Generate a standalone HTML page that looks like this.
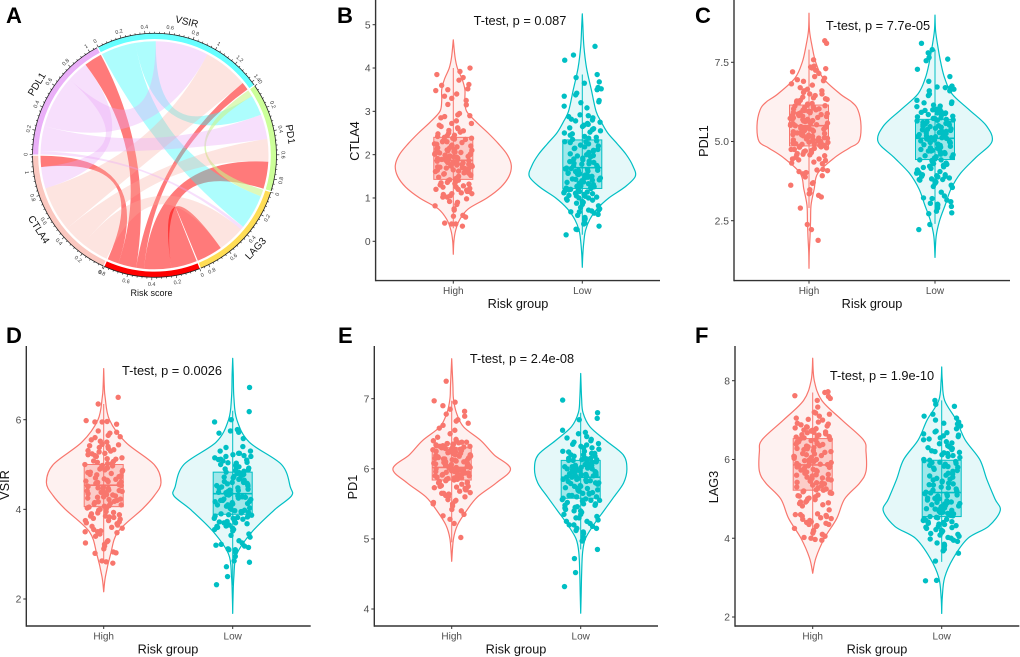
<!DOCTYPE html>
<html lang="en">
<head>
<meta charset="utf-8">
<title>Risk score and immune checkpoints</title>
<style>
html,body{margin:0;padding:0;background:#fff}
svg{display:block;font-family:"Liberation Sans",Arial,sans-serif}
</style>
</head>
<body>
<svg id="figure" xmlns="http://www.w3.org/2000/svg" width="1020" height="657" viewBox="0 0 1020 657">
<rect width="1020" height="657" fill="#fff"/>
<g id="panelA"></g>
<g id="panelB"></g>
<g id="panelC"></g>
<g id="panelD"></g>
<g id="panelE"></g>
<g id="panelF"></g>
<text x="6" y="23" font-size="22" font-weight="bold">A</text>
<text x="337" y="23" font-size="22" font-weight="bold">B</text>
<text x="695" y="23" font-size="22" font-weight="bold">C</text>
<text x="6" y="343" font-size="22" font-weight="bold">D</text>
<text x="338" y="343" font-size="22" font-weight="bold">E</text>
<text x="695" y="343" font-size="22" font-weight="bold">F</text>
</svg>
<script>
/* ---------- chord diagram data ---------- */
const chordSectors = ['VSIR','PD1','LAG3','Risk score','CTLA4','PDL1'];
const chordSectorColors = ['#66FFFF','#CCFF99','#FFDD55','#FF0000','#FBC8C0','#EAB0F8'];
const chordPairs = [
  ['VSIR','LAG3',0.31],['VSIR','PD1',0.18],['VSIR','PDL1',0.47],['VSIR','CTLA4',0.40],['VSIR','Risk score',0.07],
  ['PD1','LAG3',0.06],['PD1','PDL1',0.22],['PD1','CTLA4',0.20],['PD1','Risk score',0.24],
  ['LAG3','PDL1',0.03],['LAG3','CTLA4',0.24],['LAG3','Risk score',0.23],
  ['Risk score','PDL1',0.16],['Risk score','CTLA4',0.10],
  ['CTLA4','PDL1',0.19]
];
const chordOrderVSIR = ['LAG3','PD1','PDL1','CTLA4','Risk score'];
const chordOrderPD1 = ['LAG3','VSIR','PDL1','CTLA4','Risk score'];
const chordOrderLAG3 = ['PD1','VSIR','PDL1','CTLA4','Risk score'];
const chordOrderRisk = ['LAG3','PD1','VSIR','PDL1','CTLA4'];
const chordOrderCTLA4 = ['LAG3','PD1','VSIR','PDL1','Risk score'];
const chordOrderPDL1 = ['LAG3','PD1','VSIR','CTLA4','Risk score'];

/* ---------- panel B: CTLA4 ---------- */
const ctla4Ticks = [0,1,2,3,4,5];
const ctla4TickLabels = ['0','1','2','3','4','5'];
const ctla4HighViolinY = [-0.3,0,0.25,0.5,0.75,1,1.25,1.5,1.75,2,2.25,2.5,2.75,3,3.25,3.5,3.75,4,4.25,4.65];
const ctla4HighDensity = [0,0.01,0.04,0.11,0.26,0.58,0.82,0.96,1,0.93,0.78,0.6,0.4,0.23,0.2,0.2,0.15,0.07,0.03,0];
const ctla4HighBox = [0.3,1.43,1.87,2.4,4.0];
const ctla4HighValues = [.35,.4,.4,.42,.56,.6,.58,.72,.75,.82,.85,.9,.92,.98,1.02,1.05,1.08,1.1,1.12,1.15,1.18,1.2,1.2,1.22,1.25,1.28,1.3,1.32,1.35,1.36,1.38,1.4,1.42,1.45,1.48,1.5,1.52,1.55,1.56,1.58,1.6,1.62,1.64,1.65,1.68,1.7,1.72,1.74,1.75,1.78,1.8,1.82,1.83,1.85,1.86,1.88,1.9,1.92,1.94,1.95,1.98,2.0,2.02,2.04,2.05,2.08,2.1,2.12,2.15,2.18,2.2,2.22,2.25,2.28,2.3,2.32,2.35,2.38,2.4,2.42,2.45,2.5,2.52,2.55,2.6,2.62,2.68,2.72,2.78,2.85,2.88,2.9,2.92,2.95,3.15,3.16,3.25,3.3,3.35,3.4,3.48,3.5,3.52,3.6,3.62,3.72,3.78,3.85,3.92,4.0,
1.25,1.33,1.41,1.47,1.53,1.57,1.61,1.63,1.67,1.69,1.71,1.73,1.76,1.77,1.79,1.81,1.84,1.87,1.89,1.91,1.93,1.96,1.97,1.99,2.01,2.03,2.06,2.07,2.09,2.11,2.13,2.16,2.2,2.24,2.3,2.36,2.38,2.44,2.48,2.56,1.15,1.1,1.02,2.65,2.72];
const ctla4LowViolinY = [-0.6,-0.3,0,0.25,0.5,0.75,1,1.25,1.5,1.75,2,2.25,2.5,2.75,3,3.5,4,4.5,5,5.25];
const ctla4LowDensity = [0,0.01,0.03,0.06,0.14,0.28,0.5,0.8,1,0.95,0.83,0.66,0.48,0.36,0.26,0.17,0.08,0.03,0.01,0];
const ctla4LowBox = [0.15,1.22,1.7,2.34,3.85];
const ctla4LowValues = [.15,.27,.28,.35,.4,.42,.5,.52,.55,.6,.62,.65,.68,.7,.72,.75,.78,.82,.85,.9,.92,.95,.98,1.0,1.02,1.04,1.06,1.08,1.1,1.12,1.14,1.16,1.18,1.2,1.22,1.24,1.26,1.28,1.3,1.32,1.34,1.36,1.38,1.4,1.42,1.44,1.46,1.48,1.5,1.52,1.54,1.56,1.58,1.6,1.62,1.64,1.66,1.68,1.7,1.72,1.75,1.78,1.8,1.82,1.85,1.88,1.9,1.95,1.98,2.0,2.05,2.1,2.12,2.15,2.2,2.25,2.28,2.3,2.32,2.35,2.4,2.45,2.5,2.55,2.6,2.65,2.7,2.75,2.78,2.8,2.85,2.88,2.9,2.92,3.08,3.12,3.2,3.22,3.25,3.35,3.38,3.42,3.5,3.52,3.55,3.65,3.68,3.78,3.85,4.18,4.3,4.5,
1.05,1.11,1.15,1.19,1.23,1.27,1.31,1.33,1.37,1.41,1.43,1.47,1.49,1.53,1.55,1.57,1.61,1.63,1.67,1.69,1.74,1.79,1.84,1.92,1.97,2.02,2.08,2.14,2.18,2.22,2.3,2.38,2.42,2.48,2.52,2.58,2.62,2.68,2.72,2.82,.88,.95,.72,.68,1.0];

/* ---------- panel C: PDL1 ---------- */
const pdl1Ticks = [2.5,5,7.5];
const pdl1TickLabels = ['2.5','5.0','7.5'];
const pdl1HighViolinY = [1,1.5,2,2.5,3,3.5,4,4.5,4.8,5,5.5,6,6.25,6.5,7,7.5,8,8.5,9.05];
const pdl1HighDensity = [0,0.005,0.02,0.03,0.04,0.1,0.17,0.5,0.78,0.96,1,0.94,0.82,0.6,0.27,0.13,0.06,0.01,0];
const pdl1HighBox = [2.9,4.86,5.5,6.15,7.9];
const pdl1HighValues = [1.88,2.22,2.38,2.9,3.25,3.3,3.35,3.38,3.48,3.62,3.68,3.7,3.88,3.92,3.98,4.02,4.05,4.08,4.1,4.12,4.3,4.32,4.35,4.4,4.42,4.45,4.5,4.55,4.58,4.6,4.65,4.68,4.7,4.72,4.75,4.78,4.8,4.82,4.85,4.88,4.9,4.92,4.95,4.98,5.0,5.02,5.05,5.08,5.1,5.12,5.15,5.18,5.2,5.22,5.25,5.28,5.3,5.33,5.36,5.4,5.42,5.45,5.48,5.5,5.53,5.56,5.58,5.6,5.63,5.66,5.68,5.7,5.73,5.76,5.8,5.82,5.85,5.88,5.9,5.92,5.95,5.98,6.0,6.03,6.06,6.1,6.12,6.15,6.2,6.25,6.3,6.35,6.38,6.45,6.5,6.55,6.6,6.65,6.7,6.78,6.82,6.9,6.92,6.95,7.0,7.05,7.15,7.2,7.25,7.3,7.32,7.35,7.38,7.58,8.1,8.18,
4.75,4.83,4.87,4.91,4.93,4.97,5.01,5.03,5.07,5.11,5.17,5.21,5.27,5.31,5.35,5.39,5.43,5.47,5.51,5.55,5.59,5.61,5.65,5.69,5.71,5.75,5.79,5.83,5.87,5.91,5.95,5.99,6.03,6.07,6.13,6.18,6.22,6.28,6.33,6.4,4.62,4.58,4.45,6.5,6.6];
const pdl1LowViolinY = [1.34,2,2.5,3,3.5,4,4.5,5,5.5,6,6.5,7,7.5,8,8.5,8.99];
const pdl1LowDensity = [0,0.02,0.08,0.18,0.28,0.45,0.72,1,0.9,0.6,0.3,0.17,0.1,0.05,0.01,0];
const pdl1LowBox = [2.4,4.43,5.1,5.7,7.9];
const pdl1LowValues = [2.22,2.38,2.72,2.75,2.8,2.9,2.95,3.0,3.02,3.05,3.1,3.15,3.22,3.28,3.4,3.55,3.58,3.62,3.68,3.72,3.75,3.78,3.8,3.82,3.85,3.88,3.9,3.92,3.95,4.0,4.05,4.1,4.15,4.18,4.2,4.25,4.28,4.3,4.35,4.38,4.4,4.42,4.45,4.48,4.5,4.55,4.58,4.6,4.65,4.68,4.7,4.72,4.75,4.8,4.82,4.85,4.88,4.9,4.95,4.98,5.0,5.05,5.08,5.1,5.12,5.15,5.18,5.2,5.25,5.28,5.3,5.32,5.35,5.38,5.4,5.45,5.48,5.5,5.52,5.55,5.58,5.6,5.65,5.68,5.7,5.72,5.75,5.8,5.85,5.88,5.9,5.92,5.95,6.0,6.05,6.1,6.15,6.2,6.25,6.3,6.45,6.5,6.6,6.65,6.7,6.72,6.75,6.9,7.05,7.28,7.55,7.6,7.65,7.8,7.9,8.1,
4.02,4.22,4.32,4.42,4.52,4.62,4.7,4.78,4.84,4.92,4.97,5.02,5.07,5.12,5.17,5.22,5.27,5.33,5.37,5.42,5.47,5.53,5.57,5.62,5.67,5.73,5.78,5.83,5.9,5.98,3.8,3.9,3.95,6.02,6.12,6.22,6.6,6.7,2.95,3.2];

/* ---------- panel D: VSIR ---------- */
const vsirTicks = [2,4,6];
const vsirTickLabels = ['2','4','6'];
const vsirHighViolinY = [2.16,2.5,3,3.5,4,4.3,4.6,5,5.5,6,6.5,6.75,7.14];
const vsirHighDensity = [0,0.03,0.12,0.25,0.67,0.88,1,0.88,0.38,0.1,0.025,0.01,0];
const vsirHighBox = [2.83,4.06,4.54,5.0,6.35];
const vsirHighValues = [2.8,2.83,2.85,3.02,3.03,3.05,3.12,3.18,3.22,3.25,3.28,3.3,3.45,3.48,3.5,3.52,3.55,3.58,3.6,3.65,3.68,3.7,3.75,3.78,3.8,3.82,3.85,3.88,3.9,3.92,3.95,3.98,4.0,4.02,4.05,4.08,4.1,4.12,4.15,4.18,4.2,4.22,4.25,4.28,4.3,4.32,4.35,4.38,4.4,4.42,4.45,4.48,4.5,4.52,4.55,4.58,4.6,4.62,4.65,4.68,4.7,4.72,4.75,4.78,4.8,4.82,4.85,4.88,4.9,4.92,4.95,4.98,5.0,5.03,5.05,5.08,5.12,5.15,5.2,5.22,5.25,5.28,5.3,5.33,5.36,5.4,5.42,5.45,5.5,5.55,5.6,5.62,5.65,5.7,5.72,5.75,5.9,5.95,5.95,5.96,5.98,6.35,6.5,
3.62,3.72,3.83,3.93,4.03,4.13,4.23,4.33,4.37,4.43,4.47,4.53,4.57,4.63,4.67,4.73,4.77,4.83,4.87,4.93,4.97,5.02,5.07,5.13,5.18,5.24,5.31,5.38,5.44,5.52,3.4,3.5,3.75,3.85,4.07,4.17,4.27,4.41,4.51,4.61];
const vsirLowViolinY = [1.68,2,2.5,3,3.5,4,4.3,4.5,5,5.5,6,6.5,7,7.37];
const vsirLowDensity = [0,0.005,0.02,0.07,0.33,0.72,1,0.98,0.83,0.28,0.07,0.02,0.01,0];
const vsirLowBox = [2.3,3.89,4.35,4.83,6.2];
const vsirLowValues = [2.32,2.5,2.72,2.82,2.85,2.95,3.05,3.07,3.1,3.12,3.15,3.18,3.22,3.25,3.3,3.38,3.42,3.45,3.52,3.55,3.58,3.6,3.62,3.65,3.68,3.7,3.72,3.75,3.78,3.8,3.82,3.85,3.88,3.9,3.92,3.95,3.98,4.0,4.02,4.05,4.08,4.1,4.12,4.15,4.18,4.2,4.22,4.25,4.28,4.3,4.32,4.35,4.38,4.4,4.42,4.45,4.48,4.5,4.52,4.55,4.58,4.6,4.62,4.65,4.68,4.7,4.72,4.75,4.78,4.8,4.82,4.85,4.88,4.9,4.92,4.95,5.0,5.03,5.05,5.08,5.1,5.12,5.15,5.18,5.2,5.22,5.25,5.3,5.38,5.4,5.58,5.7,5.72,5.75,5.78,5.95,6.0,6.18,6.72,
3.55,3.63,3.73,3.83,3.87,3.93,3.97,4.03,4.07,4.13,4.17,4.23,4.27,4.33,4.37,4.43,4.47,4.53,4.57,4.63,4.67,4.73,4.77,4.83,4.87,4.93,4.98,5.04,5.11,5.18,3.1,3.2,3.6,3.7,5.25,5.3,3.8,4.1,4.2,4.6];

/* ---------- panel E: PD1 ---------- */
const pd1Ticks = [4,5,6,7];
const pd1TickLabels = ['4','5','6','7'];
const pd1HighViolinY = [4.68,5,5.2,5.4,5.6,5.8,6,6.2,6.4,6.6,6.8,7,7.2,7.57];
const pd1HighDensity = [0,0.03,0.1,0.25,0.44,0.76,1,0.72,0.5,0.2,0.08,0.03,0.02,0];
const pd1HighBox = [4.95,5.84,6.02,6.3,6.97];
const pd1HighValues = [5.02,5.22,5.28,5.33,5.35,5.4,5.42,5.47,5.5,5.52,5.54,5.55,5.56,5.6,5.62,5.64,5.65,5.66,5.68,5.7,5.72,5.73,5.74,5.75,5.76,5.78,5.8,5.81,5.82,5.83,5.84,5.85,5.86,5.87,5.88,5.89,5.9,5.91,5.92,5.93,5.94,5.95,5.96,5.97,5.98,5.99,6.0,6.01,6.02,6.03,6.04,6.05,6.06,6.07,6.08,6.09,6.1,6.11,6.12,6.13,6.14,6.15,6.16,6.17,6.18,6.19,6.2,6.22,6.23,6.24,6.25,6.26,6.27,6.28,6.29,6.3,6.31,6.32,6.33,6.34,6.35,6.36,6.37,6.38,6.4,6.42,6.45,6.5,6.55,6.58,6.62,6.65,6.68,6.7,6.75,6.78,6.82,6.85,6.9,6.95,6.97,7.25,
5.7,5.75,5.8,5.85,5.87,5.9,5.92,5.94,5.96,5.98,6.0,6.02,6.04,6.06,6.08,6.1,6.12,6.14,6.16,6.18,6.2,6.22,6.24,6.26,6.28,6.3,6.32,6.34,6.36,6.38,5.6,5.65,5.5,6.4,6.35,6.3,5.95,6.05,6.15,6.25];
const pd1LowViolinY = [3.94,4.2,4.5,4.8,5,5.2,5.4,5.6,5.8,6,6.2,6.4,6.6,6.8,7,7.36];
const pd1LowDensity = [0,0.01,0.02,0.04,0.1,0.28,0.5,0.72,0.93,1,0.92,0.55,0.2,0.05,0.02,0];
const pd1LowBox = [4.85,5.58,5.88,6.12,6.8];
const pd1LowValues = [4.32,4.52,4.72,4.85,4.97,5.0,5.03,5.08,5.1,5.12,5.15,5.18,5.2,5.22,5.25,5.27,5.3,5.32,5.35,5.38,5.4,5.42,5.44,5.46,5.48,5.5,5.52,5.54,5.55,5.56,5.57,5.58,5.6,5.62,5.64,5.65,5.66,5.68,5.69,5.7,5.72,5.73,5.75,5.76,5.78,5.79,5.8,5.82,5.83,5.84,5.85,5.86,5.88,5.89,5.9,5.91,5.92,5.93,5.94,5.95,5.96,5.97,5.98,6.0,6.01,6.02,6.03,6.04,6.05,6.06,6.08,6.09,6.1,6.12,6.13,6.14,6.15,6.16,6.18,6.2,6.22,6.24,6.25,6.28,6.3,6.32,6.34,6.36,6.38,6.4,6.42,6.44,6.46,6.5,6.52,6.55,6.7,6.72,6.8,6.98,
5.4,5.45,5.5,5.55,5.6,5.65,5.7,5.75,5.8,5.85,5.88,5.9,5.93,5.95,5.98,6.0,6.03,6.05,6.08,6.1,6.13,6.15,6.18,6.2,6.25,6.3,5.3,5.25,5.2,5.15,5.35,5.48,5.62,5.72,5.82,5.92,6.02,6.12,6.22,6.35];

/* ---------- panel F: LAG3 ---------- */
const lag3Ticks = [2,4,6,8];
const lag3TickLabels = ['2','4','6','8'];
const lag3HighViolinY = [3.11,3.5,4,4.5,5,5.4,5.7,6.2,6.5,7,7.5,8,8.57];
const lag3HighDensity = [0,0.06,0.22,0.45,0.6,0.88,1,1,0.95,0.55,0.17,0.03,0];
const lag3HighBox = [3.95,5.22,5.86,6.53,7.7];
const lag3HighValues = [3.95,3.97,4.0,4.02,4.05,4.1,4.13,4.18,4.2,4.25,4.3,4.32,4.35,4.38,4.4,4.45,4.48,4.5,4.52,4.55,4.58,4.6,4.62,4.72,4.82,4.85,4.88,4.9,4.92,4.95,4.98,5.0,5.02,5.05,5.08,5.1,5.15,5.18,5.2,5.22,5.25,5.28,5.3,5.35,5.38,5.4,5.42,5.45,5.48,5.5,5.52,5.55,5.58,5.6,5.62,5.65,5.68,5.7,5.72,5.75,5.78,5.8,5.82,5.85,5.88,5.9,5.92,5.95,5.98,6.0,6.02,6.05,6.08,6.1,6.12,6.15,6.18,6.2,6.25,6.28,6.3,6.32,6.35,6.38,6.4,6.42,6.45,6.48,6.5,6.52,6.55,6.58,6.6,6.62,6.65,6.68,6.7,6.72,6.75,6.78,6.8,6.82,6.85,6.88,6.9,6.95,7.0,7.05,7.1,7.15,7.18,7.2,7.33,7.5,7.55,7.6,7.62,7.7,7.72,
4.92,5.07,5.14,5.23,5.33,5.41,5.53,5.61,5.67,5.73,5.81,5.84,5.87,5.93,5.97,6.03,6.07,6.14,6.22,6.27,6.34,6.39,6.44,6.51,6.57,6.63,6.69,6.74,6.83,6.92,7.02,4.35,4.42,4.56,4.6];
const lag3LowViolinY = [2.09,2.5,3,3.5,4,4.3,4.7,5,5.5,6,6.5,7,7.5,8,8.35];
const lag3LowDensity = [0,0.01,0.05,0.2,0.45,0.8,1,0.91,0.77,0.65,0.4,0.25,0.05,0.01,0];
const lag3LowBox = [3.4,4.55,5.16,5.98,7.5];
const lag3LowValues = [2.92,2.93,3.42,3.62,3.68,3.72,3.78,3.82,3.85,3.88,3.92,3.95,3.98,4.0,4.02,4.05,4.08,4.1,4.15,4.18,4.2,4.25,4.28,4.3,4.32,4.35,4.38,4.4,4.42,4.45,4.48,4.5,4.52,4.55,4.58,4.6,4.62,4.65,4.68,4.7,4.72,4.75,4.78,4.8,4.82,4.85,4.88,4.9,4.92,4.95,4.98,5.0,5.02,5.05,5.08,5.1,5.12,5.15,5.18,5.2,5.25,5.3,5.35,5.38,5.4,5.45,5.48,5.5,5.55,5.6,5.65,5.7,5.72,5.75,5.8,5.82,5.85,5.88,5.9,5.92,5.95,5.98,6.0,6.05,6.1,6.12,6.15,6.18,6.2,6.25,6.28,6.3,6.35,6.4,6.45,6.5,6.55,6.58,6.62,6.65,6.7,6.72,6.78,6.85,6.9,6.92,6.95,7.0,7.05,7.1,7.15,7.35,7.4,7.5,
4.36,4.41,4.46,4.53,4.57,4.63,4.66,4.71,4.74,4.77,4.83,4.87,4.91,4.97,5.01,5.07,5.13,5.17,5.22,5.28,5.36,5.43,5.52,5.58,5.63,5.78,5.83,5.93,5.97,6.08,6.17,6.22,6.32,6.42,6.52,6.6,6.68,4.12,4.22,4.27];

/* ---------- drawing helpers ---------- */
const SVGNS = 'http://www.w3.org/2000/svg';
function mk(parent, tag, attrs, txt){
  const el = document.createElementNS(SVGNS, tag);
  for (const k in attrs) el.setAttribute(k, attrs[k]);
  if (txt !== undefined) el.textContent = txt;
  parent.appendChild(el);
  return el;
}
function linearScale(v0, p0, v1, p1){ return v => p0 + (v - v0) * (p1 - p0) / (v1 - v0); }
function slug(s){ return s.toLowerCase().replace(/\s+/g, '-'); }

function smoothSide(pts){
  /* Catmull-Rom through the outline points, returned as bezier segments */
  let d = '';
  for (let i = 0; i < pts.length - 1; i++){
    const p0 = pts[Math.max(i - 1, 0)], p1 = pts[i], p2 = pts[i + 1], p3 = pts[Math.min(i + 2, pts.length - 1)];
    const c1 = [p1[0] + (p2[0] - p0[0]) / 6, p1[1] + (p2[1] - p0[1]) / 6];
    const c2 = [p2[0] - (p3[0] - p1[0]) / 6, p2[1] - (p3[1] - p1[1]) / 6];
    d += 'C' + c1[0].toFixed(2) + ' ' + c1[1].toFixed(2) + ' ' + c2[0].toFixed(2) + ' ' + c2[1].toFixed(2) + ' ' + p2[0].toFixed(2) + ' ' + p2[1].toFixed(2);
  }
  return d;
}

function drawGroup(g, name, cx, yScale, color, fill, maxHalf, gridY, density, box, values, seed){
  const right = gridY.map((v, i) => [cx + density[i] * maxHalf, yScale(v)]);
  const left = gridY.map((v, i) => [cx - density[i] * maxHalf, yScale(v)]).reverse();
  const d = 'M' + right[0][0] + ' ' + right[0][1] + smoothSide(right) + smoothSide(left) + 'Z';
  const violin = mk(g, 'path', {d: d, fill: fill, stroke: color, 'stroke-width': 1.2, 'stroke-linejoin': 'round'});
  
  

  const whisker = mk(g, 'line', {x1: cx, x2: cx, y1: yScale(box[0]), y2: yScale(box[4]), stroke: color, 'stroke-width': 1});
  
  

  const halfBox = 19.5;
  const rect = mk(g, 'rect', {x: cx - halfBox, width: halfBox * 2, y: yScale(box[3]), height: yScale(box[1]) - yScale(box[3]), fill: color, 'fill-opacity': 0.3, stroke: color, 'stroke-width': 1});
  
  

  const median = mk(g, 'line', {x1: cx - halfBox, x2: cx + halfBox, y1: yScale(box[2]), y2: yScale(box[2]), stroke: color, 'stroke-width': 1.6});
  
  

  values.forEach((v, i) => {
    /* horizontal jitter only: a fixed index hash across the box width; the y position comes from the value */
    const h = Math.sin((i + 1) * 12.9898 + seed * 78.233) * 43758.5453;
    const jitter = ((h - Math.floor(h)) - 0.5) * 2 * 19;
    const dot = mk(g, 'circle', {cx: (cx + jitter).toFixed(2), cy: yScale(v).toFixed(2), r: 2.7, fill: color});
    
    
  });
}

function drawPanel(cfg){
  const g = document.getElementById(cfg.id);
  const y = linearScale(cfg.tickA[0], cfg.tickA[1], cfg.tickB[0], cfg.tickB[1]);
  const axisColor = '#333';
  const tickText = '#4d4d4d';

  drawGroup(g, cfg.gene + '-high', cfg.highX, y, '#F8766D', 'rgba(248,118,109,0.1)', cfg.highHalf, cfg.high.grid, cfg.high.density, cfg.high.box, cfg.high.values, 1);
  drawGroup(g, cfg.gene + '-low', cfg.lowX, y, '#00BFC4', 'rgba(0,191,196,0.1)', cfg.lowHalf, cfg.low.grid, cfg.low.density, cfg.low.box, cfg.low.values, 2);

  const yAxis = mk(g, 'line', {x1: cfg.axisX, x2: cfg.axisX, y1: cfg.axisTop, y2: cfg.axisBottom + 0.7, stroke: axisColor, 'stroke-width': 1.4});
  
  
  const xAxis = mk(g, 'line', {x1: cfg.axisX, x2: cfg.axisRight, y1: cfg.axisBottom, y2: cfg.axisBottom, stroke: axisColor, 'stroke-width': 1.4});
  
  

  cfg.ticks.forEach((t, i) => {
    const tick = mk(g, 'line', {x1: cfg.axisX - 3, x2: cfg.axisX, y1: y(t), y2: y(t), stroke: axisColor, 'stroke-width': 1});
    
    
    const lab = mk(g, 'text', {x: cfg.axisX - 5, y: y(t) + 3.6, 'font-size': 10.3, 'text-anchor': 'end', fill: tickText}, cfg.tickLabels[i]);
    
    
  });

  [['High', cfg.highX], ['Low', cfg.lowX]].forEach(c => {
    const tick = mk(g, 'line', {x1: c[1], x2: c[1], y1: cfg.axisBottom, y2: cfg.axisBottom + 3, stroke: axisColor, 'stroke-width': 1});
    
    
    const lab = mk(g, 'text', {x: c[1], y: cfg.axisBottom + 13.5, 'font-size': 10, 'text-anchor': 'middle', fill: tickText}, c[0]);
    
    
  });

  const xTitle = mk(g, 'text', {x: cfg.xTitleX, y: cfg.axisBottom + 27.5, 'font-size': 12.7, 'text-anchor': 'middle', fill: '#111'}, 'Risk group');
  
  
  const yTitle = mk(g, 'text', {'font-size': 12.7, 'text-anchor': 'middle', fill: '#111', transform: 'translate(' + cfg.yTitle[0] + ',' + cfg.yTitle[1] + ') rotate(-90)'}, cfg.label);
  
  
  const note = mk(g, 'text', {x: cfg.note[0], y: cfg.note[1], 'font-size': 12.8, 'text-anchor': 'middle', fill: '#111'}, cfg.noteText);
  
  
}

/* ---------- panels ---------- */
drawPanel({id:'panelB', gene:'ctla4', label:'CTLA4', noteText:'T-test, p = 0.087', note:[520,25], ticks:ctla4Ticks, tickLabels:ctla4TickLabels,
  tickA:[5,24.7], tickB:[0,241.3], axisX:375.6, axisRight:660, axisTop:0, axisBottom:280.6, highX:453.3, lowX:582.3, highHalf:58, lowHalf:53, xTitleX:518, yTitle:[359,141],
  high:{grid:ctla4HighViolinY, density:ctla4HighDensity, box:ctla4HighBox, values:ctla4HighValues},
  low:{grid:ctla4LowViolinY, density:ctla4LowDensity, box:ctla4LowBox, values:ctla4LowValues}});
drawPanel({id:'panelC', gene:'pdl1', label:'PDL1', noteText:'T-test, p = 7.7e-05', note:[878,30], ticks:pdl1Ticks, tickLabels:pdl1TickLabels,
  tickA:[7.5,62.3], tickB:[2.5,220.7], axisX:734, axisRight:1010, axisTop:0, axisBottom:280.6, highX:809, lowX:935, highHalf:52, lowHalf:57, xTitleX:872, yTitle:[708,141],
  high:{grid:pdl1HighViolinY, density:pdl1HighDensity, box:pdl1HighBox, values:pdl1HighValues},
  low:{grid:pdl1LowViolinY, density:pdl1LowDensity, box:pdl1LowBox, values:pdl1LowValues}});
drawPanel({id:'panelD', gene:'vsir', label:'VSIR', noteText:'T-test, p = 0.0026', note:[172,375], ticks:vsirTicks, tickLabels:vsirTickLabels,
  tickA:[6,419.7], tickB:[2,599], axisX:26.3, axisRight:310.7, axisTop:346, axisBottom:626, highX:103.7, lowX:232.7, highHalf:57.3, lowHalf:58.8, xTitleX:168, yTitle:[9,485],
  high:{grid:vsirHighViolinY, density:vsirHighDensity, box:vsirHighBox, values:vsirHighValues},
  low:{grid:vsirLowViolinY, density:vsirLowDensity, box:vsirLowBox, values:vsirLowValues}});
drawPanel({id:'panelE', gene:'pd1', label:'PD1', noteText:'T-test, p = 2.4e-08', note:[522,363], ticks:pd1Ticks, tickLabels:pd1TickLabels,
  tickA:[7,398.7], tickB:[4,609], axisX:374.3, axisRight:658, axisTop:346, axisBottom:626, highX:451.7, lowX:580.7, highHalf:58.8, lowHalf:46.2, xTitleX:516, yTitle:[357,487],
  high:{grid:pd1HighViolinY, density:pd1HighDensity, box:pd1HighBox, values:pd1HighValues},
  low:{grid:pd1LowViolinY, density:pd1LowDensity, box:pd1LowBox, values:pd1LowValues}});
drawPanel({id:'panelF', gene:'lag3', label:'LAG3', noteText:'T-test, p = 1.9e-10', note:[882,380], ticks:lag3Ticks, tickLabels:lag3TickLabels,
  tickA:[8,380.7], tickB:[2,617], axisX:735, axisRight:1019.3, axisTop:346, axisBottom:626, highX:812.7, lowX:941.7, highHalf:53.3, lowHalf:58.5, xTitleX:877, yTitle:[718,487],
  high:{grid:lag3HighViolinY, density:lag3HighDensity, box:lag3HighBox, values:lag3HighValues},
  low:{grid:lag3LowViolinY, density:lag3LowDensity, box:lag3LowBox, values:lag3LowValues}});

/* ---------- chord diagram ---------- */
(function(){
  const g = document.getElementById('panelA');
  const CX = 154.5, CY = 155.3, R_LINK = 114, R_IN = 116.3, R_OUT = 122;
  const GAP = 0.6;
  const orders = {'VSIR':chordOrderVSIR,'PD1':chordOrderPD1,'LAG3':chordOrderLAG3,'Risk score':chordOrderRisk,'CTLA4':chordOrderCTLA4,'PDL1':chordOrderPDL1};
  const pairValue = (a, b) => { const p = chordPairs.find(q => (q[0] === a && q[1] === b) || (q[0] === b && q[1] === a)); return p ? p[2] : 0; };
  const totals = chordSectors.map(s => orders[s].reduce((acc, o) => acc + pairValue(s, o), 0));
  const degPerUnit = (360 - GAP * chordSectors.length) / totals.reduce((a, b) => a + b, 0);
  const pt = (deg, r) => { const t = deg * Math.PI / 180; return [CX + r * Math.sin(t), CY - r * Math.cos(t)]; };
  const f = n => n.toFixed(2);

  /* sector + chunk layout */
  const starts = {}, chunks = {};
  let cursor = -27.5;
  chordSectors.forEach((s, i) => {
    starts[s] = cursor;
    let a = cursor;
    orders[s].forEach(o => {
      const w = pairValue(s, o) * degPerUnit;
      chunks[s + '|' + o] = [a, a + w];
      a += w;
    });
    cursor = a + GAP;
  });

  /* ribbon colour follows the picture's rule for each pair */
  const ribbonColor = (a, b) => {
    if (a === 'Risk score' || b === 'Risk score') return 'rgba(255,0,0,0.52)';
    if (a === 'PD1' && b === 'LAG3') return 'rgba(200,245,140,0.6)';
    if (a === 'PDL1' || b === 'PDL1') return 'rgba(232,165,248,0.36)';
    if (a === 'CTLA4' || b === 'CTLA4') return 'rgba(250,170,160,0.32)';
    return 'rgba(40,250,250,0.38)';
  };

  chordPairs.slice().sort((p, q) => {
    const rank = x => (x[0] === 'Risk score' || x[1] === 'Risk score') ? 0 : 1;
    return rank(p) - rank(q);
  }).forEach(p => {
    const A = chunks[p[0] + '|' + p[1]], B = chunks[p[1] + '|' + p[0]];
    const a1 = pt(A[0], R_LINK), a2 = pt(A[1], R_LINK), b1 = pt(B[0], R_LINK), b2 = pt(B[1], R_LINK);
    const d = 'M' + f(a1[0]) + ' ' + f(a1[1]) +
      'A' + R_LINK + ' ' + R_LINK + ' 0 0 1 ' + f(a2[0]) + ' ' + f(a2[1]) +
      'Q' + CX + ' ' + CY + ' ' + f(b1[0]) + ' ' + f(b1[1]) +
      'A' + R_LINK + ' ' + R_LINK + ' 0 0 1 ' + f(b2[0]) + ' ' + f(b2[1]) +
      'Q' + CX + ' ' + CY + ' ' + f(a1[0]) + ' ' + f(a1[1]) + 'Z';
    const ribbon = mk(g, 'path', {d: d, fill: ribbonColor(p[0], p[1])});
    
    
  });

  chordSectors.forEach((s, i) => {
    const a0 = starts[s], a1 = a0 + totals[i] * degPerUnit;
    const o0 = pt(a0, R_OUT), o1 = pt(a1, R_OUT), i1 = pt(a1, R_IN), i0 = pt(a0, R_IN);
    const large = (a1 - a0) > 180 ? 1 : 0;
    const d = 'M' + f(o0[0]) + ' ' + f(o0[1]) + 'A' + R_OUT + ' ' + R_OUT + ' 0 ' + large + ' 1 ' + f(o1[0]) + ' ' + f(o1[1]) +
      'L' + f(i1[0]) + ' ' + f(i1[1]) + 'A' + R_IN + ' ' + R_IN + ' 0 ' + large + ' 0 ' + f(i0[0]) + ' ' + f(i0[1]) + 'Z';
    const arc = mk(g, 'path', {d: d, fill: chordSectorColors[i]});
    
    

    const rim = mk(g, 'path', {d: 'M' + f(o0[0]) + ' ' + f(o0[1]) + 'A' + R_OUT + ' ' + R_OUT + ' 0 ' + large + ' 1 ' + f(o1[0]) + ' ' + f(o1[1]), fill: 'none', stroke: '#222', 'stroke-width': 0.8});
    
    

    for (let k = 0; k * 0.04 <= totals[i] + 1e-6; k++){
      const val = k * 0.04;
      const major = k % 5 === 0;
      const ang = a0 + val * degPerUnit;
      const t0 = pt(ang, R_OUT), t1 = pt(ang, R_OUT + (major ? 2.8 : 1.6));
      const tick = mk(g, 'line', {x1: f(t0[0]), y1: f(t0[1]), x2: f(t1[0]), y2: f(t1[1]), stroke: '#222', 'stroke-width': 0.6});
      
      
      if (major){
        const lp = pt(ang, R_OUT + 6.8);
        const norm = ((ang % 360) + 360) % 360;
        const rot = (norm > 90 && norm < 270) ? norm + 180 : norm;
        const text = String(Math.round(val * 10) / 10);
        const lab = mk(g, 'text', {'font-size': 5.4, 'text-anchor': 'middle', fill: '#333', transform: 'translate(' + f(lp[0]) + ',' + f(lp[1]) + ') rotate(' + f(rot) + ') translate(0,1.8)'}, text);
        
        
      }
    }

    const mid = (a0 + a1) / 2;
    const np = pt(mid, 137.5);
    const norm = ((mid % 360) + 360) % 360;
    const rot = (norm > 90 && norm < 270) ? norm + 180 : norm;
    const nameLabel = mk(g, 'text', {'font-size': s === 'Risk score' ? 9 : 10, 'text-anchor': 'middle', fill: '#111', transform: 'translate(' + f(np[0]) + ',' + f(np[1]) + ') rotate(' + f(s === 'Risk score' ? 0 : rot) + ') translate(0,3.3)'}, s);
    
    
  });
})();
</script>
</body>
</html>
